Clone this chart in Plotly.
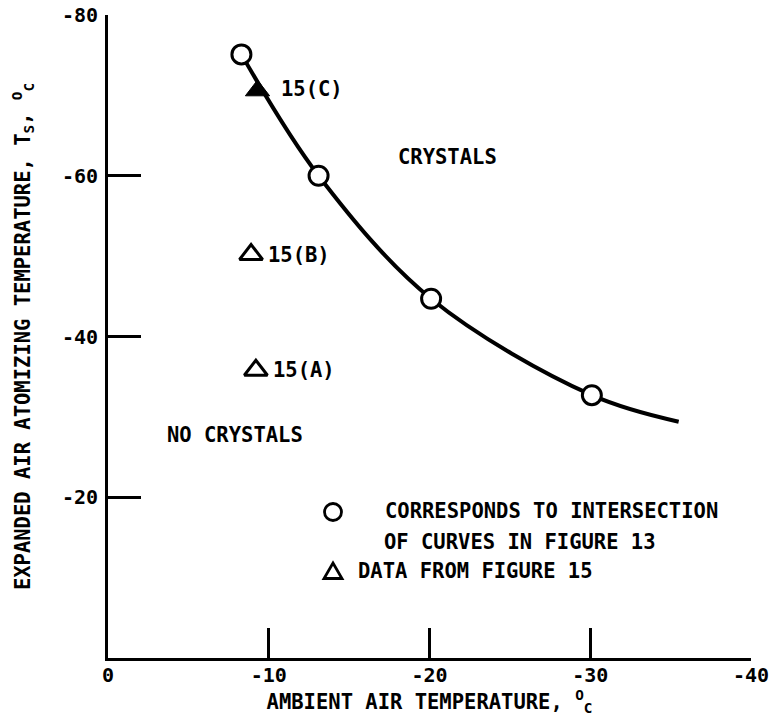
import plotly.graph_objects as go

# ---- data ----
curve_x = [-8.3, -13.1, -20.1, -30.1, -35.5]
curve_y = [-75.1, -60.0, -44.7, -32.7, -29.4]

circle_x = [-8.3, -13.1, -20.1, -30.1]
circle_y = [-75.1, -60.0, -44.7, -32.7]

open_tri_x = [-9.2, -8.9]
open_tri_y = [-35.8, -50.2]
open_tri_labels = ["15(A)", "15(B)"]

filled_tri_x = [-9.3]
filled_tri_y = [-70.6]
filled_tri_labels = ["15(C)"]

x_tickvals = [0, -10, -20, -30, -40]
x_ticktext = ["0", "-10", "-20", "-30", "-40"]
y_tickvals = [-20, -40, -60, -80]
y_ticktext = ["-20", "-40", "-60", "-80"]

FONT = "DejaVu Sans Mono"
BLACK = "#000000"

fig = go.Figure()

fig.add_trace(go.Scatter(
    x=curve_x, y=curve_y, mode="lines",
    line=dict(color=BLACK, width=4, shape="spline", smoothing=1.0),
    showlegend=False, hoverinfo="skip"))

fig.add_trace(go.Scatter(
    x=circle_x, y=circle_y, mode="markers",
    marker=dict(symbol="circle", size=19, color="white",
                line=dict(color=BLACK, width=3)),
    showlegend=False))

fig.add_trace(go.Scatter(
    x=open_tri_x, y=open_tri_y, mode="markers",
    marker=dict(symbol="triangle-up-open", size=20, color=BLACK,
                line=dict(color=BLACK, width=3)),
    showlegend=False))

fig.add_trace(go.Scatter(
    x=filled_tri_x, y=filled_tri_y, mode="markers",
    marker=dict(symbol="triangle-up", size=21, color=BLACK,
                line=dict(color=BLACK, width=1)),
    showlegend=False))

annotations = []
txtfont = dict(family=FONT, size=20.5, color=BLACK, weight="bold")
for x, y, t in zip(open_tri_x, open_tri_y, open_tri_labels):
    annotations.append(dict(x=x, y=y, xref="x", yref="y", text=t, showarrow=False,
                            xanchor="left", yanchor="middle", xshift=15, font=txtfont))
for x, y, t in zip(filled_tri_x, filled_tri_y, filled_tri_labels):
    annotations.append(dict(x=x, y=y, xref="x", yref="y", text=t, showarrow=False,
                            xanchor="left", yanchor="middle", xshift=21, yshift=2, font=txtfont))

W, H = 643.0, 643.0
L, T = 108.0, 15.0
def px(xp):
    return (xp - L) / W
def py(yp):
    return (T + H - yp) / H

annotations += [
    dict(x=px(396), y=py(157), xref="paper", yref="paper", text="CRYSTALS",
         showarrow=False, xanchor="left", yanchor="middle", font=txtfont),
    dict(x=px(165), y=py(435), xref="paper", yref="paper", text="NO CRYSTALS",
         showarrow=False, xanchor="left", yanchor="middle", font=txtfont),
    dict(x=px(383), y=py(511), xref="paper", yref="paper", text="CORRESPONDS TO INTERSECTION",
         showarrow=False, xanchor="left", yanchor="middle", font=txtfont),
    dict(x=px(382), y=py(542), xref="paper", yref="paper", text="OF CURVES IN FIGURE 13",
         showarrow=False, xanchor="left", yanchor="middle", font=txtfont),
    dict(x=px(356), y=py(571), xref="paper", yref="paper", text="DATA FROM FIGURE 15",
         showarrow=False, xanchor="left", yanchor="middle", font=txtfont),
]

# legend symbols (decorative shapes)
cx, cy, r = 333, 512, 8.5
tx, ty = 333, 571
shapes = [
    dict(type="circle", xref="paper", yref="paper",
         x0=px(cx - r), x1=px(cx + r), y0=py(cy + r), y1=py(cy - r),
         line=dict(color=BLACK, width=2.8), fillcolor="white"),
    dict(type="path", xref="paper", yref="paper",
         path=f"M {px(tx-9)} {py(ty+7.5)} L {px(tx+9)} {py(ty+7.5)} L {px(tx)} {py(ty-8)} Z",
         line=dict(color=BLACK, width=2.8), fillcolor="rgba(0,0,0,0)"),
]

fig.update_layout(
    width=777, height=725,
    margin=dict(l=108, r=26, t=15, b=67, pad=0, autoexpand=False),
    paper_bgcolor="white", plot_bgcolor="white",
    font=dict(family=FONT, size=20, color=BLACK),
    showlegend=False,
    annotations=annotations,
    shapes=shapes,
    xaxis=dict(
        range=[0, -40], tickvals=x_tickvals, ticktext=x_ticktext,
        automargin=False,
        showgrid=False, zeroline=False,
        showline=True, linecolor=BLACK, linewidth=3,
        ticks="inside", ticklen=30, tickwidth=3, tickcolor=BLACK,
        ticklabelstandoff=-3,
        tickfont=dict(family=FONT, size=20, color=BLACK, weight="bold"),
        title=dict(text="AMBIENT AIR TEMPERATURE, <sup>O</sup><sub>C</sub>",
                   font=dict(family=FONT, size=20.5, color=BLACK, weight="bold"), standoff=6),
    ),
    yaxis=dict(
        range=[0, -80], tickvals=y_tickvals, ticktext=y_ticktext,
        automargin=False,
        showgrid=False, zeroline=False,
        showline=True, linecolor=BLACK, linewidth=3,
        ticks="inside", ticklen=33, tickwidth=3, tickcolor=BLACK,
        ticklabelstandoff=3,
        tickfont=dict(family=FONT, size=20, color=BLACK, weight="bold"),
        title=dict(text="EXPANDED AIR ATOMIZING TEMPERATURE, T<sub>S</sub>, <sup>O</sup><sub>C</sub>",
                   font=dict(family=FONT, size=20.5, color=BLACK, weight="bold"), standoff=26),
    ),
)

fig.write_html("out.html",
               config={"displayModeBar": False},
               post_script="document.body.style.margin='0';document.body.style.overflow='hidden';")
